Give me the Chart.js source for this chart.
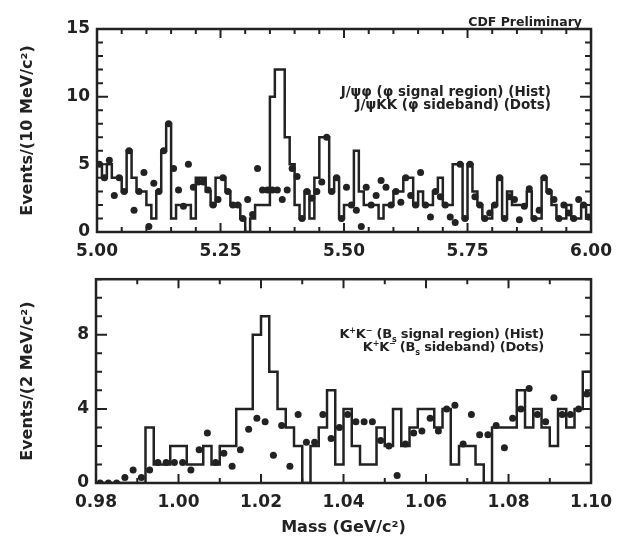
<!DOCTYPE html>
<html>
<head>
<meta charset="utf-8">
<script src="https://cdn.jsdelivr.net/npm/chart.js@4.4.0/dist/chart.umd.min.js"></script>
<style>
body{margin:0;background:#fff;width:621px;height:543px;overflow:hidden;position:relative;font-family:"DejaVu Sans",sans-serif;color:#222}
#topBox{position:absolute;left:0;top:0}
#botBox{position:absolute;left:0;top:262px}
.note{position:absolute;font-weight:bold;font-size:13px;line-height:13px;text-align:right;white-space:nowrap}
.note sup,.note sub{font-size:8px;line-height:0}
</style>
</head>
<body>

<div id="topBox"><canvas id="topChart" width="621" height="262"></canvas></div>
<div id="botBox"><canvas id="botChart" width="621" height="281"></canvas></div>

<div class="note" style="right:39px;top:15px;font-size:12.5px">CDF Preliminary</div>
<div class="note" style="right:70px;top:85px;font-size:13.5px">J/ψφ (φ signal region) (Hist)<br>J/ψKK (φ sideband) (Dots)</div>
<div class="note" style="right:77px;top:327px;letter-spacing:-0.2px">K<sup>+</sup>K<sup>−</sup> (B<sub>s</sub> signal region) (Hist)<br>K<sup>+</sup>K<sup>−</sup> (B<sub>s</sub> sideband) (Dots)</div>

<script>

/* ---------------- DATA ---------------- */

// J/psi phi mass, 10 MeV bins from 5.00 to 6.00
const topStart = 5.00
const topBin = 0.01
const topHist = [5,4,5,4,4,3,6,4,3,3,2,1,3,6,8,1,2,2,2,1,
4,4,3,2,4,4,3,2,2,1,0,1,2,2,2,10,12,12,7,5,
2,1,3,1,4,7,7,3,4,1,2,2,6,3,2,2,2,1,2,2,
3,3,4,4,2,3,2,2,3,4,2,2,5,5,1,5,3,2,1,1,
2,4,1,3,2,2,2,3,1,1,4,3,2,1,1,2,1,1,2,1]
const topDots = [5,4,5.3,2.7,4,3,6,1.6,3,4.4,0.4,3.6,3,6,8,4.7,3.1,1.9,5,3.3,
3.7,3.7,3.1,2,2.4,4,3,2,2,1,2.4,1.3,4.7,3.1,3.1,3.1,3.1,2.4,3.1,4.7,
4.1,1,3,2.5,3,3.7,7,3,4,1,3.3,2,1.6,0.4,3.3,2,2.7,3.8,3.3,2,
3,2.2,4,2.7,2,4.4,2,1.1,3,2.6,2,1.1,0.7,5,1,5,2.6,2,1,1.4,
2,4,1,2.6,2.4,0.9,1.9,3.2,1,1.6,4,3,2.4,1,2,1.4,1,2.4,2,1.1]

// K+K- mass, 2 MeV bins from 0.98 to 1.10
const botStart = 0.98
const botBin = 0.002
const botHist = [0,0,0,0,0,0,3,1,1,2,2,1,1,2,1,2,2,4,4,8,
9,6,4,3,2,0,2,3,5,1,4,2,1,1,3,2,4,2,3,4,
4,3,4,1,2,2,1,0,3,3,3,5,3,4,3,2,4,3,4,6]
const botDots = [0,0,0,0.3,0.7,0.3,0.7,1.1,1.1,1.1,1.1,0.7,1.8,2.7,1.1,1.6,0.9,1.8,2.9,3.5,
3.3,1.5,3.1,0.9,3.7,2.2,2.2,3.7,2.4,3,3.7,3.3,3.3,3.3,2.3,2,0.4,2.1,2.7,2.8,
3.5,2.8,4,4.2,2.1,3.7,2.6,2.6,3.1,1.9,3.5,4,5.1,3.7,3.3,4.6,3.7,3.7,4,4.8]

const topXTicks = [5.00,5.25,5.50,5.75,6.00]
const topYTicks = [0,5,10,15]
const botXTicks = [0.98,1.00,1.02,1.04,1.06,1.08,1.10]
const botYTicks = [0,4,8]


/* ---------------- HELPERS ---------------- */

const INK = "#222"
const FONT = "DejaVu Sans"

function histPoints(start,width,vals){
const pts = vals.map((v,i)=>({x:start+i*width,y:v}))
pts.push({x:start+vals.length*width,y:vals[vals.length-1]})
return pts
}

function dotPoints(start,width,vals){
return vals.map((v,i)=>({x:start+(i+0.5)*width,y:v}))
}

function isMajor(list,v){
return list.some(t=>Math.abs(t-v)<1e-6)
}

// frame and inward ticks on all four sides
const frameTicks = {
id:"frameTicks",
afterDatasetsDraw(chart,args,opts){
const ctx = chart.ctx
const a = chart.chartArea
const xs = chart.scales.x
const ys = chart.scales.y
ctx.save()
ctx.strokeStyle = INK
ctx.lineWidth = 2
xs.ticks.forEach(t=>{
const px = xs.getPixelForValue(t.value)
const len = isMajor(opts.xMajor,t.value) ? 9 : 5
ctx.beginPath()
ctx.moveTo(px,a.bottom); ctx.lineTo(px,a.bottom-len)
ctx.moveTo(px,a.top); ctx.lineTo(px,a.top+len)
ctx.stroke()
})
ys.ticks.forEach(t=>{
const py = ys.getPixelForValue(t.value)
const len = isMajor(opts.yMajor,t.value) ? 11 : 6
ctx.beginPath()
ctx.moveTo(a.left,py); ctx.lineTo(a.left+len,py)
ctx.moveTo(a.right,py); ctx.lineTo(a.right-len,py)
ctx.stroke()
})
ctx.lineWidth = 2.5
ctx.strokeRect(a.left,a.top,a.right-a.left,a.bottom-a.top)
ctx.restore()
}
}

function makeChart(id,cfg){
return new Chart(document.getElementById(id),{
type:"line",
data:{
datasets:[
{
data:histPoints(cfg.start,cfg.bin,cfg.hist),
stepped:"before",
borderColor:INK,
borderWidth:2.5,
pointRadius:0,
fill:false
},
{
type:"scatter",
data:dotPoints(cfg.start,cfg.bin,cfg.dots),
pointRadius:3.5,
pointBackgroundColor:INK,
pointBorderWidth:0
}
]
},
options:{
responsive:false,
animation:false,
events:[],
layout:{padding:cfg.padding},
plugins:{
legend:{display:false},
tooltip:{enabled:false},
frameTicks:{xMajor:cfg.xTicks,yMajor:cfg.yTicks}
},
scales:{
x:{
type:"linear",
min:cfg.xMin,max:cfg.xMax,
grid:{display:false,drawTicks:false},
border:{display:false},
ticks:{
stepSize:cfg.xStep,
autoSkip:false,maxRotation:0,
padding:cfg.xPad,
color:INK,
font:{family:FONT,size:17,weight:"bold"},
callback:v=>isMajor(cfg.xTicks,v) ? v.toFixed(2) : ""
},
title:cfg.xTitle,
afterFit:s=>{s.height=cfg.xHeight}
},
y:{
min:0,max:cfg.yMax,
grid:{display:false,drawTicks:false},
border:{display:false},
ticks:{
stepSize:1,
autoSkip:false,
padding:7,
color:INK,
font:{family:FONT,size:17,weight:"bold"},
callback:v=>isMajor(cfg.yTicks,v) ? String(v) : ""
},
title:{
display:true,
text:cfg.yTitle,
color:INK,
font:{family:FONT,size:16,weight:"bold"},
padding:{top:18,bottom:0}
},
afterFit:s=>{s.width=cfg.yWidth}
}
}
},
plugins:[frameTicks]
})
}


/* ---------------- CHARTS ---------------- */

makeChart("topChart",{
start:topStart,bin:topBin,hist:topHist,dots:topDots,
xMin:5.00,xMax:6.00,xStep:0.05,xTicks:topXTicks,
yMax:15,yTicks:topYTicks,
yTitle:"Events/(10 MeV/c²)",
xTitle:{display:false},
padding:{top:29,right:24,left:0,bottom:0},
xHeight:30,yWidth:97,xPad:9
})

makeChart("botChart",{
start:botStart,bin:botBin,hist:botHist,dots:botDots,
xMin:0.98,xMax:1.10,xStep:0.01,xTicks:botXTicks,
yMax:11,yTicks:botYTicks,
yTitle:"Events/(2 MeV/c²)",
xTitle:{
display:true,
text:"Mass (GeV/c²)",
color:INK,
font:{family:FONT,size:16,weight:"bold"},
padding:{top:0,bottom:6}
},
padding:{top:16,right:23,left:0,bottom:0},
xHeight:60,yWidth:96,xPad:9
})

</script>
</body>
</html>
